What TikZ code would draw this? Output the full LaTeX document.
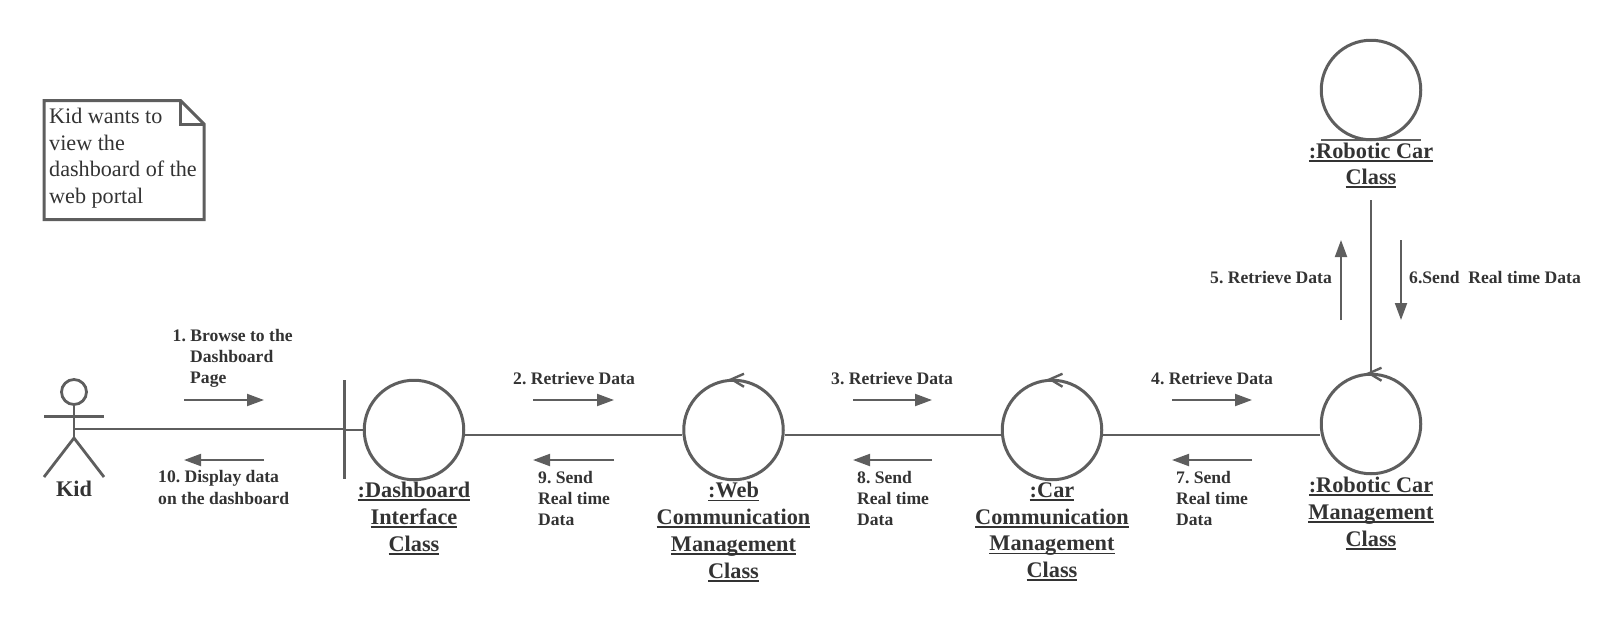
\documentclass[tikz,border=0pt]{standalone}
\usepackage{fontspec}
\setmainfont{Liberation Serif}
\usetikzlibrary{arrows.meta}
\definecolor{ln}{HTML}{5E5E5E}
\definecolor{tx}{HTML}{333333}
\newcommand{\ulin}[1]{\leavevmode\setbox0=\hbox{#1}\rlap{\rule[-3.5pt]{\wd0}{1.9pt}}\box0}
\tikzset{
  x=1pt,y=-1pt,
  obj/.style={circle,draw=ln,line width=3pt,minimum size=99.5pt,inner sep=0pt,fill=white},
  conn/.style={draw=ln,line width=2.2pt},
  stick/.style={draw=ln,line width=2.8pt},
  msg/.style={draw=ln,line width=2pt,-{Triangle[length=17pt,width=12pt,fill=ln]}},
  msglabel/.style={text=tx,font=\fontsize{17.6}{21.2}\selectfont\bfseries,align=left,inner sep=0pt,anchor=west},
  objlabel/.style={text=tx,font=\fontsize{22.3}{26.7}\selectfont\bfseries,align=center,inner sep=0pt},
  chev/.style={draw=ln,line width=2.4pt},
}
\begin{document}
\frenchspacing
\begin{tikzpicture}
\useasboundingbox (0,0) rectangle (1611,635);
% note
\draw[draw=ln,line width=3pt,fill=white] (44,100.5) -- (180.5,100.5) -- (204,124) -- (204,219.5) -- (44,219.5) -- cycle;
\draw[draw=ln,line width=3pt,line join=miter] (180.5,100.5) -- (180.5,124) -- (204,124);
\node[text=tx,font=\fontsize{22.15}{26.7}\selectfont,align=left,inner sep=0pt,anchor=north west] (note) at (49,108) {Kid wants to\\view the\\dashboard of the\\web portal};
% actor
\node[circle,draw=ln,line width=2.8pt,minimum size=25pt,inner sep=0pt] (head) at (74,392) {};
\coordinate (hip) at (74,438);
\coordinate (armL) at (44,416.7);
\coordinate (armR) at (104,416.7);
\coordinate (legL) at (44,477);
\coordinate (legR) at (104,477);
\coordinate (kidhand) at (74,428.5);
\draw[stick] (head.south) -- (hip);
\draw[stick] (armL) -- (armR);
\draw[stick] (legL) -- (hip) -- (legR);
\node[objlabel] (kid) at (74,488.5) {Kid};
% objects
\node[obj] (dash) at (414,430) {};
\node[obj] (web) at (733.5,430) {};
\node[obj] (car) at (1052,430) {};
\node[obj] (mgmt) at (1371,424) {};
\node[obj] (rob) at (1371,90) {};
\coordinate (barT) at (344.5,380);
\coordinate (barB) at (344.5,479);
\coordinate (barM) at (344.5,430);
\coordinate (robL) at (1321,140);
\coordinate (robR) at (1421,140);
\coordinate (robline) at (1371,200);
\draw[draw=ln,line width=2.8pt] (barT) -- (barB);
\draw[draw=ln,line width=2.8pt] (barM) -- (dash.west);
\draw[draw=ln,line width=2.8pt] (robL) -- (robR);
% connectors
\draw[draw=ln,line width=2pt] (kidhand) -- (barT |- kidhand);
\draw[conn] ([yshift=-5pt]dash.east) -- ([yshift=-5pt]web.west);
\draw[conn] ([yshift=-5pt]web.east) -- ([yshift=-5pt]car.west);
\draw[conn] ([yshift=-5pt]car.east) -- ([yshift=-11pt]mgmt.west);
\draw[conn] (robline) -- (mgmt.north);
% chevrons
\foreach \n in {web,car,mgmt}{
  \draw[chev] ([xshift=10.5pt,yshift=5pt]\n.north) -- ([xshift=-2pt,yshift=-0.5pt]\n.north) -- ([xshift=10.5pt,yshift=-8pt]\n.north);
}
% messages
\foreach \a/\b/\y/\nm in {184/264/400/a,264/184/460/b,533/614/400/c,614/533/460/d,853/932/400/e,932/853/460/f,1172/1252/400/g,1252/1172/460/h}{
  \coordinate (s\nm) at (\a,\y); \coordinate (t\nm) at (\b,\y);
  \draw[msg] (s\nm) -- (t\nm);
}
\coordinate (si) at (1341,320); \coordinate (ti) at (1341,240);
\coordinate (sj) at (1401,240); \coordinate (tj) at (1401,320);
\draw[msg] (si) -- (ti);
\draw[msg] (sj) -- (tj);
% labels
\node[msglabel] (m1) at (172.5,358.5) {1. Browse to the\\\hspace*{17.5pt}Dashboard\\\hspace*{17.5pt}Page};
\node[msglabel] (m2) at (513,378.5) {2. Retrieve Data};
\node[msglabel] (m3) at (831,378.5) {3. Retrieve Data};
\node[msglabel] (m4) at (1151,378.5) {4. Retrieve Data};
\node[msglabel] (m5) at (1210,277.5) {5. Retrieve Data};
\node[msglabel] (m6) at (1409,277.5) {6.Send\ \ Real time Data};
\node[msglabel] (m7) at (1176,498.5) {7. Send\\Real time\\Data};
\node[msglabel] (m8) at (857,498.5) {8. Send\\Real time\\Data};
\node[msglabel] (m9) at (538,498.5) {9. Send\\Real time\\Data};
\node[msglabel] (m10) at (158,487.5) {10. Display data\\on the dashboard};
% object labels
\node[objlabel] (ldash) at (414,518.5) {\ulin{:Dashboard}\\\ulin{Interface}\\\ulin{Class}};
\node[objlabel] (lweb) at (733.5,532) {\ulin{:Web}\\\ulin{Communication}\\\ulin{Management}\\\ulin{Class}};
\node[objlabel] (lcar) at (1052,532) {\ulin{:Car}\\\ulin{Communication}\\\ulin{Management}\\\ulin{Class}};
\node[objlabel] (lmgmt) at (1371,513.5) {\ulin{:Robotic Car}\\\ulin{Management}\\\ulin{Class}};
\node[objlabel] (lrob) at (1371,165.5) {\ulin{:Robotic Car}\\\ulin{Class}};
\end{tikzpicture}
\end{document}
